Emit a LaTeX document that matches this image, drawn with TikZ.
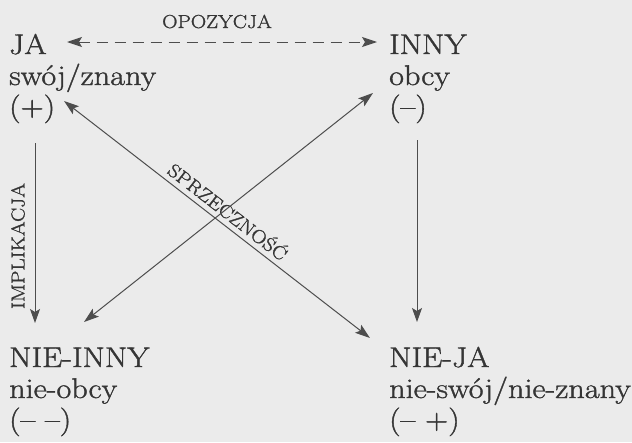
\documentclass[tikz,border=0pt]{standalone}
\usepackage{fontspec}
\setmainfont{Latin Modern Roman}[FakeStretch=1.13, RawFeature={embolden=1.3}]
\usetikzlibrary{arrows.meta}
\definecolor{bg}{HTML}{EBEBEB}
\definecolor{ink}{HTML}{353535}
\definecolor{wire}{HTML}{4D4D4D}
\begin{document}
\begin{tikzpicture}[x=1pt,y=-1pt,
  txt/.style={anchor=base west, inner sep=0pt, text=ink, font=\fontsize{28.5}{30}\selectfont},
  lab/.style={inner sep=0pt, text=ink, font=\fontsize{18.8}{20}\selectfont},
  wirestyle/.style={draw=wire, line width=1pt},
  tipone/.style={wirestyle, -{Stealth[length=14pt,width=10pt,inset=3pt]}},
  tiptwo/.style={wirestyle, {Stealth[length=15pt,width=10pt,inset=3pt]}-{Stealth[length=15pt,width=10pt,inset=3pt]}},
  dashline/.style={tiptwo, dash pattern=on 11pt off 7pt}]
\fill[bg] (0,0) rectangle (632,442);
\useasboundingbox (0,0) rectangle (632,442);
% corner texts
\node[txt] (ja) at (9,54) {JA};
\node[txt] (swoj) at (9,85) {swój/znany};
\node[txt] (plus) at (9,116) {(+)};
\node[txt] (inny) at (389,54) {INNY};
\node[txt] (obcy) at (389,85) {obcy};
\node[txt] (minus) at (389,116) {(–)};
\node[txt] (nieinny) at (9,367) {NIE-INNY};
\node[txt] (nieobcy) at (9,398) {nie-obcy};
\node[txt] (mm) at (9,429) {(– –)};
\node[txt] (nieja) at (389,367) {NIE-JA};
\node[txt] (nieswoj) at (389,398) {nie-swój/nie-znany};
\node[txt] (mp) at (389,429) {(– +)};
% labels
\node[lab, anchor=base] (opoz) at (217,28) {OPOZYCJA};
\node[lab, rotate=90] (impl) at (18,246) {IMPLIKACJA};
% connector ends
\coordinate (dl) at (67,42);
\coordinate (dr) at (377,42);
\coordinate (v1a) at (35,143);
\coordinate (v1b) at (35,323);
\coordinate (v2a) at (417,140);
\coordinate (v2b) at (417,322);
\coordinate (g1a) at (64,101);
\coordinate (g1b) at (370,338);
\coordinate (g2a) at (373,93);
\coordinate (g2b) at (84,322);
% connectors
\draw[dashline] (dl) -- (dr);
\draw[tipone] (v1a) -- (v1b);
\draw[tipone] (v2a) -- (v2b);
\draw[tiptwo] (g1a) -- node[lab, sloped, above=5pt, pos=0.51] (sprz) {SPRZECZNOŚĆ} (g1b);
\draw[tiptwo] (g2a) -- (g2b);
\end{tikzpicture}
\end{document}
